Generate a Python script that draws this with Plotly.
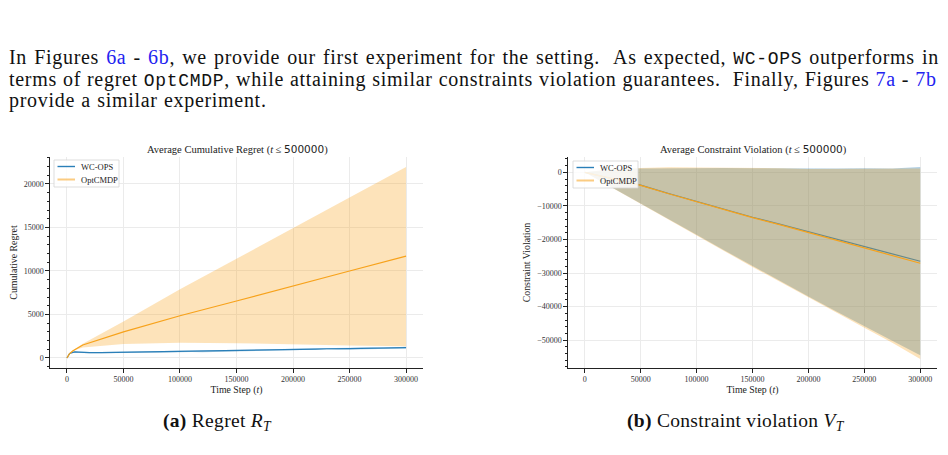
import plotly.graph_objects as go

# ---------------------------------------------------------------
# data
# left panel: average cumulative regret
reg_t = [0, 1000, 2000, 3000, 5000, 7000, 10000, 15000, 20000, 30000, 40000, 50000,
         60000, 70000, 80000, 90000, 100000, 110000, 120000, 130000, 140000, 150000,
         160000, 170000, 180000, 190000, 200000, 210000, 220000, 230000, 240000,
         250000, 260000, 270000, 280000, 290000, 300000]
wc_reg = [0, 280, 450, 560, 660, 700, 680, 640, 620, 610, 630, 600,
          640, 680, 660, 720, 700, 760, 740, 800, 830, 860,
          850, 900, 920, 960, 940, 1000, 1030, 1060, 1040,
          1080, 1100, 1120, 1110, 1150, 1190]
wc_reg_lo = [0, 230, 380, 490, 590, 620, 600, 570, 550, 540, 560, 530,
             570, 600, 590, 640, 630, 680, 670, 720, 750, 780,
             770, 820, 840, 880, 860, 920, 950, 980, 960,
             1000, 1020, 1040, 1030, 1070, 1100]
wc_reg_hi = [0, 330, 520, 630, 730, 780, 760, 710, 690, 680, 700, 670,
             710, 760, 730, 800, 770, 840, 810, 880, 910, 940,
             930, 980, 1000, 1040, 1020, 1080, 1110, 1140, 1120,
             1160, 1180, 1200, 1190, 1230, 1280]

opt_t = [0, 2000, 5000, 8000, 11000, 14000, 50000, 100000, 150000, 200000, 250000, 300000]
opt_reg = [0, 450, 800, 1050, 1300, 1500, 3000, 4850, 6550, 8300, 10000, 11700]
opt_reg_lo = [0, 400, 700, 950, 1100, 1200, 1600, 1750, 1700, 1600, 1450, 1350]
opt_reg_hi = [0, 480, 850, 1150, 1400, 1650, 4200, 7900, 11400, 14950, 18450, 21950]

# right panel: average constraint violation
cv_t = [0, 25000, 50000, 75000, 100000, 125000, 150000, 175000, 200000,
        225000, 250000, 275000, 300000]
wc_cv = [0, -1900, -3800, -6300, -8700, -11100, -13400, -15500, -17700,
         -20000, -22300, -24400, -26500]
wc_cv_lo = [0, -4600, -9200, -13900, -18600, -23300, -28000, -32500, -37000,
            -41500, -45900, -50200, -54500]
wc_cv_hi = [0, 900, 1100, 1200, 1300, 1250, 1200, 1150, 1000,
            1100, 1200, 1100, 1600]
opt_cv = [0, -1950, -3900, -6400, -8800, -11200, -13500, -15650, -17900,
          -20200, -22500, -24800, -27100]
opt_cv_lo = [0, -4700, -9400, -14100, -18800, -23500, -28200, -32800, -37300,
             -41800, -46300, -50800, -55600]
opt_cv_hi = [0, 1000, 1300, 1500, 1450, 1400, 1300, 1200, 1000,
             1050, 1100, 1000, 1100]

x_ticks = [0, 50000, 100000, 150000, 200000, 250000, 300000]
series_names = ['WC-OPS', 'OptCMDP']

# colours
BLUE = '#2a7fb8'
ORANGE = '#f7a21b'
BLUE_FILL = 'rgba(31,119,180,0.35)'
ORANGE_FILL = 'rgba(247,162,27,0.3)'
SERIF = 'Liberation Serif'
W, H = 948, 455
OFF = 8   # page body margin in the browser


def px(x):   # screen pixel -> paper (x)
    return (x - OFF) / W


def py(y):   # screen pixel -> paper (y)
    return 1 - (y - OFF) / H


fig = go.Figure()


def add_band(t, lo, hi, color, xa, ya):
    fig.add_trace(go.Scatter(
        x=list(t) + list(t)[::-1], y=list(hi) + list(lo)[::-1],
        fill='toself', fillcolor=color, line=dict(width=0),
        mode='lines', hoverinfo='skip', showlegend=False,
        xaxis=xa, yaxis=ya))


def add_line(t, y, name, color, xa, ya):
    fig.add_trace(go.Scatter(
        x=t, y=y, name=name, mode='lines', showlegend=False,
        line=dict(color=color, width=1.2),
        xaxis=xa, yaxis=ya))


# left panel
add_band(reg_t, wc_reg_lo, wc_reg_hi, BLUE_FILL, 'x', 'y')
add_line(reg_t, wc_reg, series_names[0], BLUE, 'x', 'y')
add_band(opt_t, opt_reg_lo, opt_reg_hi, ORANGE_FILL, 'x', 'y')
add_line(opt_t, opt_reg, series_names[1], ORANGE, 'x', 'y')

# right panel
add_band(cv_t, wc_cv_lo, wc_cv_hi, BLUE_FILL, 'x2', 'y2')
add_line(cv_t, wc_cv, series_names[0], BLUE, 'x2', 'y2')
add_band(cv_t, opt_cv_lo, opt_cv_hi, ORANGE_FILL, 'x2', 'y2')
add_line(cv_t, opt_cv, series_names[1], ORANGE, 'x2', 'y2')

axis_common = dict(
    showline=True, linecolor='#222', linewidth=1.2,
    ticks='outside', ticklen=3.5, tickwidth=0.9, tickcolor='#222',
    showgrid=True, gridcolor='#ebebeb', gridwidth=0.8,
    zeroline=False, tickformat='d',
    tickfont=dict(family=SERIF, size=8, color='#333'),
    title_font=dict(family=SERIF, size=9.8, color='#222'),
)

xcommon = dict(axis_common, range=[-15000, 315000], tickvals=x_ticks,
               title_text='Time Step (<i>t</i>)', title_standoff=1)

fig.update_layout(
    width=W, height=H,
    margin=dict(l=0, r=0, t=0, b=0),
    paper_bgcolor='white', plot_bgcolor='white',
    showlegend=False,
    xaxis=dict(xcommon, domain=[px(50), px(423)], anchor='y'),
    yaxis=dict(axis_common, domain=[py(368), py(157)], anchor='x',
               range=[-1150, 23100], dtick=5000,
               minor=dict(ticks='outside', ticklen=2, dtick=1000, tickcolor='#222',
                          showgrid=False),
               title_text='Cumulative Regret', title_standoff=4),
    xaxis2=dict(xcommon, domain=[px(568), px(937)], anchor='y2'),
    yaxis2=dict(axis_common, domain=[py(368), py(157)], anchor='x2',
                range=[-58300, 4560], dtick=10000,
                minor=dict(ticks='outside', ticklen=2, dtick=2000, tickcolor='#222',
                           showgrid=False),
                title_text='Constraint Violation', title_standoff=4),
)

# hand-drawn matplotlib-style legends (box, line sample, label)
for box_x0, box_x1, top in [(54, 119, 160), (573, 638, 161)]:
    fig.add_shape(type='rect', xref='paper', yref='paper',
                  x0=px(box_x0), x1=px(box_x1), y0=py(top + 27), y1=py(top),
                  fillcolor='rgba(255,255,255,0.85)', line=dict(color='#d4d4d4', width=0.8),
                  layer='above')
    for k, (name, col) in enumerate(zip(series_names, [BLUE, 'rgba(247,162,27,0.55)'])):
        yy = top + 6.5 + 13 * k
        fig.add_shape(type='line', xref='paper', yref='paper',
                      x0=px(box_x0 + 3.5), x1=px(box_x0 + 21), y0=py(yy), y1=py(yy),
                      line=dict(color=col, width=1.4 if k == 0 else 2), layer='above')
        fig.add_annotation(x=px(box_x0 + 25), y=py(yy), xref='paper', yref='paper',
                           xanchor='left', yanchor='middle', showarrow=False, text=name,
                           font=dict(family=SERIF, size=8.5, color='#222'))

# panel titles
dv = "<span style='font-family:DejaVu Sans'>500000</span>"
for cx, txt in [(237, 'Average Cumulative Regret'), (753, 'Average Constraint Violation')]:
    fig.add_annotation(x=px(cx), y=py(149), xref='paper', yref='paper', showarrow=False,
                       xanchor='center', yanchor='middle',
                       text=txt + ' (<i>t</i> ≤ ' + dv + ')',
                       font=dict(family=SERIF, size=10.5, color='#222'))

# surrounding paper text
LINK = "<span style='color:#2323f0'>%s</span>"
TT = "<span style='font-family:Liberation Mono;font-size:18px'>%s</span>"
para = [
    'In Figures ' + LINK % '6a' + ' - ' + LINK % '6b' +
    ', we provide our first experiment for the setting.  As expected, ' + TT % 'WC-OPS' +
    ' outperforms in',
    'terms of regret ' + TT % 'OptCMDP' +
    ', while attaining similar constraints violation guarantees.  Finally, Figures ' +
    LINK % '7a' + ' - ' + LINK % '7b',
    'provide a similar experiment.',
]
word_gap = [1.4, 0.3, 0.6]
for i, line in enumerate(para):
    styled = ("<span style='letter-spacing:0.7px;word-spacing:%.1fpx'>" % word_gap[i]
              + line + '</span>')
    fig.add_annotation(x=px(8), y=py(57 + 22 * i), xref='paper', yref='paper',
                       xanchor='left', yanchor='middle', showarrow=False, text=styled,
                       borderpad=0, font=dict(family=SERIF, size=20, color='#111'))

for cx, txt in [(217, '<b>(a)</b> Regret <i>R</i><sub><i>T</i></sub>'),
                (736, '<b>(b)</b> Constraint violation <i>V</i><sub><i>T</i></sub>')]:
    fig.add_annotation(x=px(cx), y=py(422), xref='paper', yref='paper', showarrow=False,
                       xanchor='center', yanchor='middle',
                       text="<span style='letter-spacing:0.3px'>" + txt + '</span>',
                       font=dict(family=SERIF, size=19.5, color='#111'))

fig.write_html('out.html')
